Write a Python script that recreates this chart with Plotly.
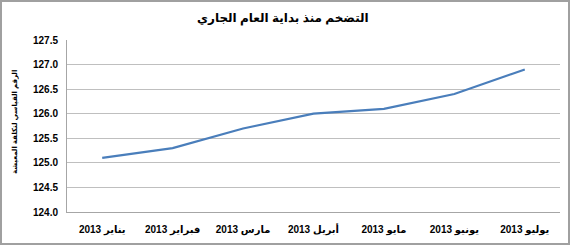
import plotly.graph_objects as go

months = ["يناير 2013", "فبراير 2013", "مارس 2013", "أبريل 2013", "مايو 2013", "يونيو 2013", "يوليو 2013"]
values = [125.1, 125.3, 125.7, 126.0, 126.1, 126.4, 126.9]
title_text = "التضخم منذ بداية العام الجاري"
y_title = "الرقم القياسي لتكلفة المعيشة"

W, H = 570, 245
L, R, T, B = 67, 10, 40, 33
pw, ph = W - L - R, H - T - B

fig = go.Figure()
fig.add_trace(go.Scatter(x=months, y=values, mode="lines",
                         line=dict(color="#4a7ebb", width=2.2), hoverinfo="skip"))

font_fam = "Arial, Liberation Sans, DejaVu Sans, sans-serif"

fig.update_layout(
    width=W, height=H,
    margin=dict(l=L, r=R, t=T, b=B),
    paper_bgcolor="white", plot_bgcolor="white",
    showlegend=False,
    font=dict(family=font_fam, color="#000000", size=10),
    xaxis=dict(type="category", range=[-0.5, 6.5], showgrid=False,
               showline=True, linecolor="#a6a6a6", linewidth=1,
               ticks="", ticklabelstandoff=8,
               tickfont=dict(size=10, family=font_fam, weight="bold"),
               fixedrange=True),
    yaxis=dict(range=[124, 127.5], dtick=0.5, tick0=124, tickformat=".1f",
               showgrid=True, gridcolor="#bfbfbf", gridwidth=1,
               showline=True, linecolor="#a6a6a6", linewidth=1,
               ticks="", ticklabelstandoff=6,
               tickfont=dict(size=10, family=font_fam, weight="bold"),
               zeroline=False, fixedrange=True),
    annotations=[
        dict(text=title_text, xref="paper", yref="paper",
             x=(283 - L) / pw, y=(H - B - 18) / ph, xanchor="center", yanchor="middle",
             showarrow=False, font=dict(size=12, family=font_fam, weight="bold")),
        dict(text=y_title, xref="paper", yref="paper",
             x=(15 - L) / pw, y=(H - B - 122) / ph, xanchor="center", yanchor="middle",
             textangle=-90, showarrow=False, font=dict(size=7, family=font_fam, weight="bold")),
    ],
    shapes=[
        dict(type="rect", xref="paper", yref="paper",
             x0=(1 - L) / pw, x1=(569 - L) / pw,
             y0=(H - B - 244) / ph, y1=(H - B - 1) / ph,
             line=dict(color="#a0a0a0", width=2), fillcolor="rgba(0,0,0,0)", layer="below"),
    ],
)

fig.write_html("out.html")
